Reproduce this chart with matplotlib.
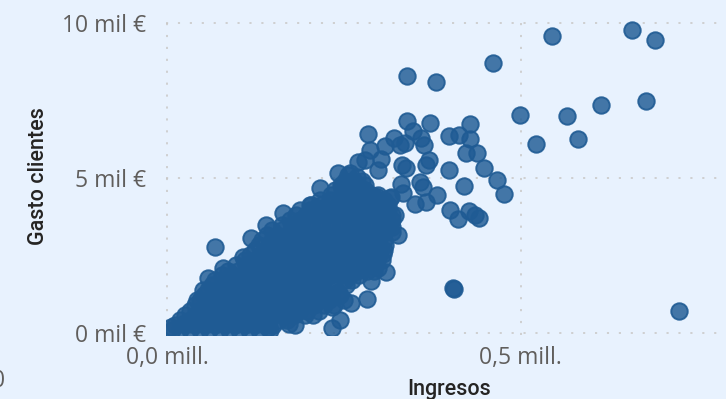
import numpy as np
import matplotlib
matplotlib.use('Agg')
import matplotlib.pyplot as plt

# miles de euros
ingresos_sueltos = [543.4, 656.5, 690, 461, 339.4, 380, 676.9, 613.7, 565.6, 498.2, 520.8, 581.2,
                    339.8, 371.5, 428.9, 284.2, 321, 348.3, 359.2, 363.4, 398.3, 413.3, 428.4, 422.4,
                    438.8, 448.7, 467, 476.1, 420, 399.2, 382.2, 370, 366.7, 332.7, 338.4, 302.2,
                    297.9, 308.7, 329.9, 336.1, 286.6, 331.3, 333.7, 357.3, 362, 298.4, 317.2, 279.5,
                    399.7, 411.9, 427, 435.1, 441.2, 404.8, 405.5, 723.6, 351.1, 366.7, 318.6, 326.6,
                    318.6, 305.4, 310.1, 298.4, 288.9, 283.2, 67.9, 140, 164.5, 202.2, 118.8, 107.9,
                    79.6, 58.4, 51.3, 42.8, 25.5, 5.2, 260.2, 244.6, 233.7, 253.1, 242.2, 232.9,
                    232.9, 206, 181, 172.9, 143.2, 215.9, 241.4, 258.8, 247, 270.5, 244.6, 211.7,
                    268.2, 256.4, 296.5, 315.3, 258.8, 291.7, 317.7, 275.3, 254.1]
gasto_sueltos = [9.58, 9.77, 9.46, 8.70, 8.28, 8.09, 7.49, 7.36, 6.98, 7.02, 6.08, 6.26,
                 6.82, 6.78, 6.72, 6.40, 6.28, 6.50, 6.28, 6.05, 6.34, 6.38, 6.24, 5.79,
                 5.80, 5.30, 4.92, 4.47, 4.73, 5.25, 4.44, 5.56, 5.41, 5.41, 5.30, 5.61,
                 5.25, 6.03, 6.06, 6.11, 5.89, 4.79, 4.52, 4.87, 4.71, 4.44, 4.39, 5.57,
                 3.95, 3.67, 3.92, 3.80, 3.71, 1.43, 1.42, 0.70, 4.15, 4.22, 3.80, 3.14,
                 3.24, 2.53, 1.96, 2.07, 1.66, 1.08, 2.76, 3.46, 3.85, 4.12, 3.04, 2.45,
                 2.07, 1.75, 1.37, 1.05, 0.30, 0.19, 0.96, 0.40, 0.14, 1.53, 1.32, 1.46,
                 0.83, 0.57, 0.24, 0.27, 0.14, 4.68, 5.16, 5.14, 4.69, 5.52, 4.06, 4.01,
                 5.01, 5.09, 4.39, 4.33, 3.85, 3.85, 3.40, 4.39, 4.66]

# la nube densa, por filas de gasto
gasto_nube = [0.08, 0.24, 0.40, 0.55, 0.70, 0.88, 1.05, 1.21, 1.37, 1.53, 1.70, 1.85, 2.00, 2.18, 2.35, 2.50,
              2.66, 2.83, 3.00, 3.15, 3.30, 3.47, 3.63, 3.80, 3.95, 4.12, 4.28, 4.44, 4.60, 4.75, 4.90]
ingresos_nube = [
    [7, 18, 33, 47, 60, 75, 88, 102, 116, 130, 145],
    [12, 25, 40, 54, 68, 82, 96, 110, 124, 138, 150],
    [18, 32, 46, 60, 74, 88, 102, 116, 130, 144, 158, 170],
    [25, 39, 53, 67, 81, 95, 109, 123, 137, 151, 165, 180, 195],
    [33, 47, 61, 75, 89, 103, 117, 131, 145, 159, 173, 187, 198, 215],
    [40, 54, 68, 82, 96, 110, 124, 138, 152, 166, 180, 194, 208, 222, 236],
    [47, 61, 75, 89, 103, 117, 131, 145, 159, 173, 187, 201, 215, 229, 250],
    [52, 66, 80, 94, 108, 122, 136, 150, 164, 178, 192, 206, 218, 232, 245],
    [58, 72, 86, 100, 114, 128, 142, 156, 170, 184, 198, 212, 222],
    [64, 78, 92, 106, 120, 134, 148, 162, 176, 190, 204, 218],
    [68, 82, 96, 110, 124, 138, 152, 166, 180, 194, 208, 222, 236, 252, 262],
    [78, 92, 106, 120, 134, 148, 162, 176, 190, 204, 218, 232, 246, 258, 272],
    [86, 100, 114, 128, 142, 156, 170, 184, 198, 212, 226, 240, 254, 268, 282, 292],
    [98, 112, 126, 140, 154, 168, 182, 196, 210, 224, 238, 252, 266, 280, 294],
    [110, 124, 138, 152, 166, 180, 194, 208, 222, 236, 250, 264, 278, 292, 304],
    [118, 132, 146, 160, 174, 188, 202, 216, 230, 244, 258, 272, 286, 300],
    [124, 138, 152, 166, 180, 194, 208, 222, 236, 250, 264, 278, 292, 306],
    [130, 144, 158, 172, 186, 200, 214, 228, 242, 256, 270, 284, 298, 308],
    [134, 148, 162, 176, 190, 204, 218, 232, 246, 260, 274, 288, 306],
    [142, 156, 170, 184, 198, 212, 226, 240, 254, 268, 282, 296, 302],
    [148, 162, 176, 190, 204, 218, 232, 246, 260, 274, 288, 308],
    [162, 176, 190, 204, 218, 232, 246, 260, 274, 288, 302, 314],
    [174, 188, 202, 216, 230, 244, 258, 272, 286, 308, 318],
    [182, 196, 210, 224, 238, 252, 266, 280, 296, 310, 322],
    [188, 202, 216, 230, 244, 258, 272, 286, 300, 312],
    [204, 218, 232, 246, 260, 274, 288, 300, 312],
    [216, 230, 244, 258, 272, 284, 296, 306],
    [232, 246, 260, 274, 290],
    [238, 252, 266, 280],
    [246, 258, 270, 280],
    [252, 264, 275],
]

yticks = [0, 5, 10]
ytick_labels = ['0 mil €', '5 mil €', '10 mil €']
xticks = [0, 500]
xtick_labels = ['0,0 mill.', '0,5 mill.']

fondo = '#e8f2fe'
plt.rcParams['font.family'] = ['Open Sans', 'DejaVu Sans']

W, H = 726, 399
fig = plt.figure(figsize=(W / 100, H / 100), dpi=100, facecolor=fondo)
ax = fig.add_axes([166 / W, (H - 335) / H, (W - 166) / W, (335 - 20) / H], facecolor=fondo)
ax.set_xlim(-1.4, 790)
ax.set_ylim(-0.08, 10.09)

x = np.concatenate([np.array(fila) for fila in ingresos_nube] + [ingresos_sueltos])
y = np.concatenate([np.full(len(fila), g) for fila, g in zip(ingresos_nube, gasto_nube)] + [gasto_sueltos])
ax.scatter(x, y, s=140, facecolor=(0.122, 0.357, 0.58, 0.82), edgecolor=(0.122, 0.357, 0.58, 0.9),
           linewidth=1.4, zorder=3)

ax.set_xticks(xticks, xtick_labels)
ax.set_yticks(yticks, ytick_labels)
ax.tick_params(length=0, labelcolor='#605e5c', labelsize=16.5)
ax.tick_params(axis='x', pad=8)
ax.tick_params(axis='y', pad=14)
ax.grid(True, color='#c8c6c4', linewidth=1.1, linestyle=(0, (1.4, 6.4)))
ax.set_axisbelow(True)
for s in ax.spines.values():
    s.set_visible(False)

fig.text(449 / W, 1 - 389 / H, 'Ingresos', ha='center', va='center', color='#252423',
         family='Roboto', fontweight='medium', fontsize=15.5)
fig.text(38 / W, 1 - 176.5 / H, 'Gasto clientes', ha='center', va='center', rotation=90, color='#252423',
         family='Roboto', fontweight='medium', fontsize=15.5)
fig.text(5 / W, 1 - 381 / H, '0', ha='right', va='center', color='#605e5c', fontsize=16.5)

fig.savefig('out.png', dpi=100, facecolor=fondo)
